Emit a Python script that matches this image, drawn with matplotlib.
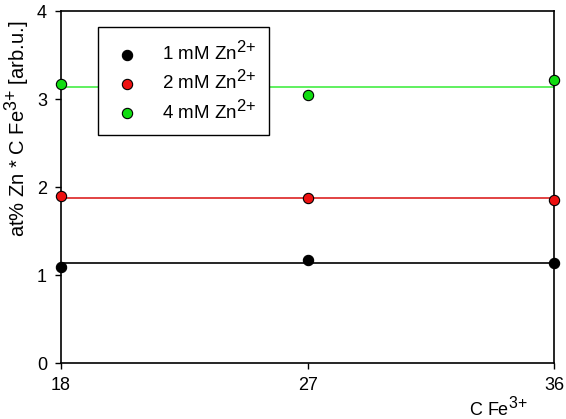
import matplotlib
matplotlib.use('Agg')
import matplotlib.pyplot as plt
import matplotlib._mathtext as mt

plt.rcParams['font.family'] = ['Liberation Sans', 'DejaVu Sans']
plt.rcParams['mathtext.fontset'] = 'custom'
plt.rcParams['mathtext.rm'] = 'Liberation Sans'
plt.rcParams['mathtext.it'] = 'Liberation Sans'
plt.rcParams['mathtext.bf'] = 'Liberation Sans'
mt.SHRINK_FACTOR = 0.88  # bigger superscripts, like the original

# concentration of Fe3+
conc_fe = [18, 27, 36]

# at% Zn * C Fe3+ for each Zn2+ concentration
zn_1mM = [1.10, 1.17, 1.14]
zn_2mM = [1.90, 1.88, 1.86]
zn_4mM = [3.17, 3.05, 3.22]

# mean (horizontal fit) levels
fit_1mM = 1.14
fit_2mM = 1.875
fit_4mM = 3.14

labels = [r'1 mM Zn$^{2{+}}$', r'2 mM Zn$^{2{+}}$', r'4 mM Zn$^{2{+}}$']
colors = ['black', '#ee1111', '#11dd11']
line_colors = ['black', '#dd2222', '#44ee44']

fig = plt.figure(figsize=(5.66, 4.19), dpi=100)
ax = fig.add_axes([61/566, 1 - 363.3/419, (554.3 - 61)/566, (363.3 - 11.5)/419])

series = [zn_1mM, zn_2mM, zn_4mM]
fits = [fit_1mM, fit_2mM, fit_4mM]
for vals, fit, c, lc, lab in zip(series, fits, colors, line_colors, labels):
    ax.plot([conc_fe[0], conc_fe[-1]], [fit, fit], color=lc, lw=1.2, zorder=2)
    ax.scatter(conc_fe, vals, s=55, color=c, edgecolor='black', linewidth=0.8,
               label=lab, zorder=3, clip_on=False)

ax.set_xlim(18, 36)
ax.set_ylim(0, 4)
ax.set_xticks(conc_fe)
ax.set_yticks([0, 1, 2, 3, 4])
ax.tick_params(labelsize=13, length=4, width=1, direction='out', pad=6)
for s in ax.spines.values():
    s.set_linewidth(1.2)

ax.text(-0.089, 0.666, r'at% Zn * C Fe$^{3{+}}$ [arb.u.]', transform=ax.transAxes,
        fontsize=14.5, rotation=90, ha='center', va='center')
ax.text(0.827, -0.147, r'C Fe$^{3{+}}$', transform=ax.transAxes, fontsize=13,
        ha='left', va='baseline')

leg = ax.legend(loc='upper left', bbox_to_anchor=(37/493.3, 1 - 15.5/351.8),
                fontsize=13.5, frameon=True, fancybox=False, edgecolor='black',
                framealpha=1, borderpad=0.7, labelspacing=0.3, handlelength=1.7,
                handletextpad=1.0, borderaxespad=0)
leg.get_frame().set_linewidth(1.0)

fig.savefig('out.png', dpi=100)
